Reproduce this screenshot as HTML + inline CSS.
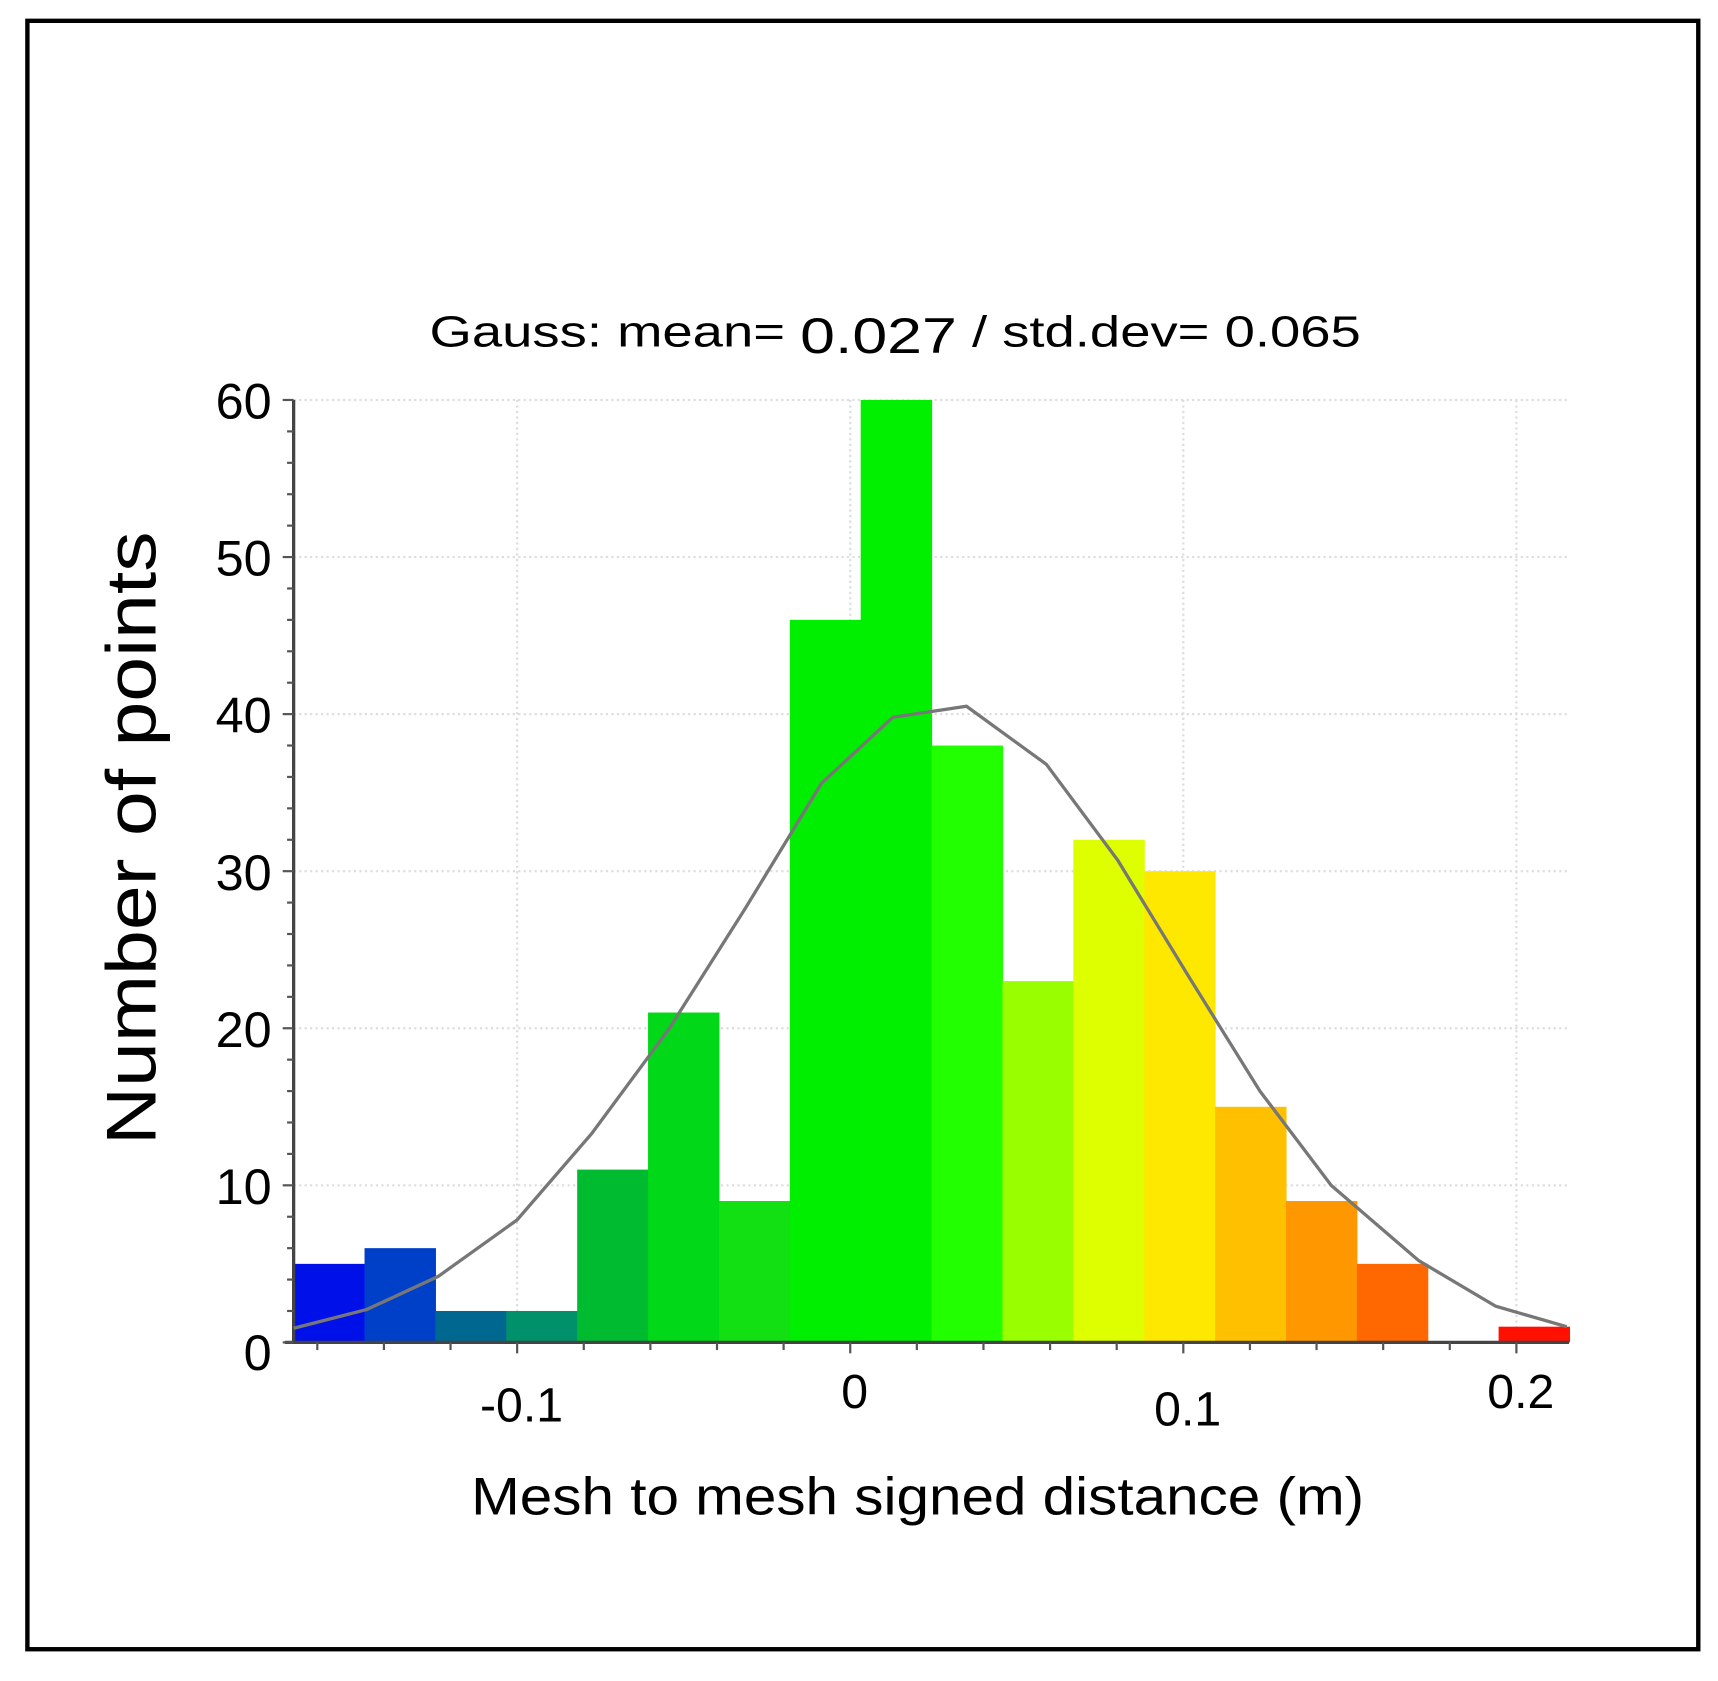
<!DOCTYPE html>
<html><head><meta charset="utf-8"><style>
html,body{margin:0;padding:0;background:#fff;}
svg{display:block;font-family:"Liberation Sans",sans-serif;}
</style></head><body>
<svg id="chart" width="1718" height="1681" viewBox="0 0 1568 1534" preserveAspectRatio="none" xmlns="http://www.w3.org/2000/svg">
<rect x="25" y="19" width="1525" height="1486" fill="#fff" stroke="#000" stroke-width="4"/>
<text x="392" y="316" font-size="40" fill="#000" textLength="850" lengthAdjust="spacingAndGlyphs">Gauss: mean= <tspan font-size="46" dy="6">0.027</tspan><tspan dy="-6"> / std.dev= 0.065</tspan></text>
<g id="grid"></g>
<g id="bars"></g>
<g id="axes"></g>
<polyline id="gauss" fill="none" stroke="#777" stroke-width="3"/>
<text x="430" y="1382" font-size="48" fill="#000" textLength="815" lengthAdjust="spacingAndGlyphs">Mesh to mesh signed distance (m)</text>
<text transform="translate(142,1045) rotate(-90)" font-size="64" fill="#000" textLength="560" lengthAdjust="spacingAndGlyphs">Number of points</text>
</svg>
<script>
const binStart = -0.1671;
const binWidth = 0.02128;
const counts = [5,6,2,2,11,21,9,46,60,38,23,32,30,15,9,5,0,1];
const colors = ["#0010e8","#0040c8","#006890","#00906a","#00bb30","#00d818","#12e012","#00ee00","#00f000","#22ff00","#99ff00","#ddff00","#ffe800","#ffc000","#ff9800","#ff6800","#ff6800","#ff1000"];
const curveX = [-0.1671,-0.1451,-0.1237,-0.1000,-0.0776,-0.0546,-0.0316,-0.0086,0.0128,0.0349,0.0589,0.0803,0.1016,0.1230,0.1444,0.1707,0.1938,0.2151];
const curveY = [0.9,2.1,4.2,7.8,13.3,19.9,27.6,35.6,39.8,40.5,36.8,30.7,23.3,16.0,10.0,5.2,2.3,1.0];
const yTicks = [0,10,20,30,40,50,60];
const xTicks = [-0.1,0,0.1,0.2];
const xTickLabels = ["-0.1","0","0.1","0.2"];

const NS = "http://www.w3.org/2000/svg";
const X0 = 268, X1 = 1432, Y0 = 1225, Y1 = 365;
const xs = v => 776 + v * 3040;
const ys = v => Y0 - (v / 60) * (Y0 - Y1);
function mk(tag, parent) { const e = document.createElementNS(NS, tag); parent.appendChild(e); return e; }
const grid = document.getElementById('grid'), bars = document.getElementById('bars'), axes = document.getElementById('axes');

yTicks.forEach(t => {
  if (t > 0) {
    const l = mk('line', grid);
    
    
    l.setAttribute('x1', X0); l.setAttribute('x2', X1); l.setAttribute('y1', ys(t)); l.setAttribute('y2', ys(t));
    l.setAttribute('stroke', '#ddd'); l.setAttribute('stroke-width', '2'); l.setAttribute('stroke-dasharray', '2 3');
  }
  const tx = mk('text', axes);
  
  
  tx.setAttribute('x', 248); tx.setAttribute('y', ys(t) + 17 + (t === 0 ? 8 : 0));
  tx.setAttribute('text-anchor', 'end'); tx.setAttribute('font-size', '46');
  tx.textContent = t;
});
xTicks.forEach((t, i) => {
  const l = mk('line', grid);
  
  
  l.setAttribute('x1', xs(t)); l.setAttribute('x2', xs(t)); l.setAttribute('y1', Y1); l.setAttribute('y2', Y0);
  l.setAttribute('stroke', '#ddd'); l.setAttribute('stroke-width', '2'); l.setAttribute('stroke-dasharray', '2 3');
  const tx = mk('text', axes);
  
  
  tx.setAttribute('x', xs(t) + 4); tx.setAttribute('y', [1297, 1285, 1301, 1285][i]);
  tx.setAttribute('text-anchor', 'middle'); tx.setAttribute('font-size', '44');
  tx.textContent = xTickLabels[i];
});
counts.forEach((c, i) => {
  if (c <= 0) return;
  const r = mk('rect', bars);
  
  
  const a = xs(binStart + i * binWidth), b = xs(binStart + (i + 1) * binWidth);
  r.setAttribute('x', a); r.setAttribute('width', b - a + 0.5);
  r.setAttribute('y', ys(c)); r.setAttribute('height', Y0 - ys(c));
  r.setAttribute('fill', colors[i]);
});
const ya = mk('line', axes);


ya.setAttribute('x1', X0); ya.setAttribute('x2', X0); ya.setAttribute('y1', Y1); ya.setAttribute('y2', Y0);
ya.setAttribute('stroke', '#444'); ya.setAttribute('stroke-width', '3');
const xa = mk('line', axes);


xa.setAttribute('x1', X0 - 8); xa.setAttribute('x2', X1); xa.setAttribute('y1', Y0); xa.setAttribute('y2', Y0);
xa.setAttribute('stroke', '#444'); xa.setAttribute('stroke-width', '3');
for (let v = 0; v <= 60; v += 2) {
  const l = mk('line', axes);
  
  
  l.setAttribute('x1', X0 - (v % 10 === 0 ? 10 : 6)); l.setAttribute('x2', X0); l.setAttribute('y1', ys(v)); l.setAttribute('y2', ys(v));
  l.setAttribute('stroke', '#555'); l.setAttribute('stroke-width', '2');
}
for (let k = -8; k <= 10; k++) {
  const v = k * 0.02;
  const px = xs(v);
  if (px < X0 || px > X1) continue;
  const l = mk('line', axes);
  
  
  l.setAttribute('x1', px); l.setAttribute('x2', px); l.setAttribute('y1', Y0); l.setAttribute('y2', Y0 + (k % 5 === 0 ? 10 : 7));
  l.setAttribute('stroke', '#555'); l.setAttribute('stroke-width', '2');
}
document.getElementById('gauss').setAttribute('points', curveX.map((x, i) => xs(x) + ',' + ys(curveY[i])).join(' '));
</script>
</body></html>
